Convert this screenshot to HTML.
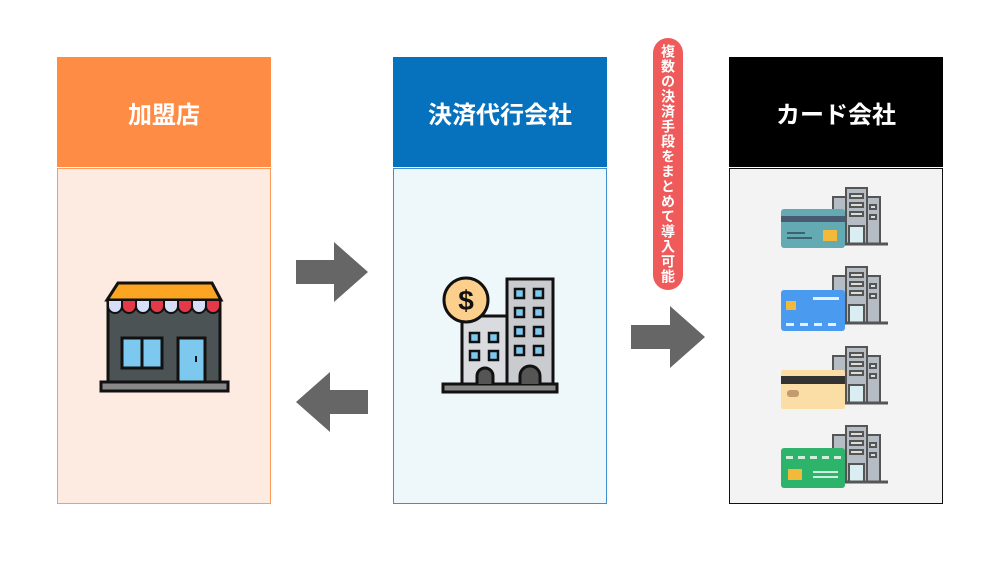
<!DOCTYPE html>
<html><head><meta charset="utf-8"><style>
body{margin:0;width:1000px;height:562px;background:#fff;position:relative;overflow:hidden;font-family:"Liberation Sans","Noto Sans CJK JP",sans-serif}
.h{position:absolute;height:110px;color:#fff;font-weight:bold;font-size:24px;display:flex;align-items:center;justify-content:center}
.b{position:absolute;box-sizing:border-box;height:336px;top:168px}
.pill{position:absolute;left:653px;top:38px;width:30px;height:252px;background:#ef5b5b;border-radius:15px;color:#fff;font-weight:bold;font-size:14px;line-height:16px;text-align:center;writing-mode:vertical-rl;display:flex;align-items:center;justify-content:center;letter-spacing:1px}
svg{position:absolute}
</style></head><body>
<div class="h" style="left:57px;top:57px;width:214px;background:#fe8c45">加盟店</div>
<div class="b" style="left:57px;width:214px;background:#fdebe1;border:1.5px solid #fe9a5a"></div>
<div class="h" style="left:393px;top:57px;width:214px;background:#0671bc">決済代行会社</div>
<div class="b" style="left:393px;width:214px;background:#eef8fb;border:1.5px solid #3d8fcf"></div>
<div class="h" style="left:729px;top:57px;width:214px;background:#000">カード会社</div>
<div class="b" style="left:729px;width:214px;background:#f3f3f3;border:1.5px solid #111"></div>
<div class="pill">複数の決済手段をまとめて導入可能</div>

<svg width="1000" height="562" style="left:0;top:0">
<g fill="#666">
<polygon points="296,260 334,260 334,242 368,272 334,302 334,284 296,284"/>
<polygon points="368,390 330,390 330,372 296,402 330,432 330,414 368,414"/>
<polygon points="631,325 670,325 670,306 705,337 670,368 670,349 631,349"/>
</g>
<!-- shop -->
<g stroke="#111" stroke-width="3">
<rect x="108" y="300" width="112" height="82" fill="#4b5355"/>
<polygon points="118,283 212,283 221,300 107,300" fill="#fca523"/>
<rect x="122" y="338" width="40" height="30" fill="#7cc8ee"/>
<line x1="142" y1="338" x2="142" y2="368"/>
<rect x="178" y="338" width="27" height="44" fill="#7cc8ee"/>
<rect x="101" y="382" width="127" height="9" fill="#888"/>
</g>
<g stroke="#111" stroke-width="2">
<path d="M108,300 h14 v6 a7,7 0 0 1 -14,0z" fill="#d7def8"/>
<path d="M122,300 h14 v6 a7,7 0 0 1 -14,0z" fill="#e5394a"/>
<path d="M136,300 h14 v6 a7,7 0 0 1 -14,0z" fill="#d7def8"/>
<path d="M150,300 h14 v6 a7,7 0 0 1 -14,0z" fill="#e5394a"/>
<path d="M164,300 h14 v6 a7,7 0 0 1 -14,0z" fill="#d7def8"/>
<path d="M178,300 h14 v6 a7,7 0 0 1 -14,0z" fill="#e5394a"/>
<path d="M192,300 h14 v6 a7,7 0 0 1 -14,0z" fill="#d7def8"/>
<path d="M206,300 h14 v6 a7,7 0 0 1 -14,0z" fill="#e5394a"/>
</g>
<line x1="196" y1="356" x2="196" y2="362" stroke="#111" stroke-width="2"/>
<!-- pay building -->
<g stroke="#111" stroke-width="3">
<rect x="462" y="316" width="46" height="68" fill="#d9dbde"/>
<rect x="507" y="279" width="46" height="105" fill="#c9cbcf"/>
<circle cx="466" cy="300" r="22" fill="#fcd08c"/>
<rect x="443" y="384" width="114" height="8" fill="#888"/>
<path d="M477,384 v-8 a8,8 0 0 1 16,0 v8" fill="#555"/>
<path d="M520,384 v-8 a10,10 0 0 1 20,0 v8" fill="#555"/>
</g>
<text x="466" y="310" font-size="28" font-weight="bold" text-anchor="middle" fill="#111" font-family="Liberation Sans">$</text>
<g fill="#7cc8ee" stroke="#111" stroke-width="2.5">
<rect x="470" y="333" width="9" height="9"/><rect x="489" y="333" width="9" height="9"/>
<rect x="470" y="351" width="9" height="9"/><rect x="489" y="351" width="9" height="9"/>
<rect x="515" y="289" width="9" height="9"/><rect x="534" y="289" width="9" height="9"/>
<rect x="515" y="308" width="9" height="9"/><rect x="534" y="308" width="9" height="9"/>
<rect x="515" y="327" width="9" height="9"/><rect x="534" y="327" width="9" height="9"/>
<rect x="515" y="346" width="9" height="9"/><rect x="534" y="346" width="9" height="9"/>
</g>
<!-- card companies -->
<defs>
<g id="bld" stroke="#555" stroke-width="2">
<rect x="833" y="17" width="14" height="47" fill="#b5bcc3"/>
<rect x="866" y="17" width="14" height="47" fill="#b5bcc3"/>
<rect x="846" y="8" width="21" height="56" fill="#b5bcc3"/>
<rect x="849" y="46" width="15" height="18" fill="#d8eef2"/>
<rect x="850" y="14" width="13" height="4" fill="#ddd"/><rect x="850" y="23" width="13" height="4" fill="#ddd"/><rect x="850" y="32" width="13" height="4" fill="#ddd"/>
<rect x="870" y="25" width="6" height="4" fill="#ddd"/><rect x="870" y="35" width="6" height="4" fill="#ddd"/>
<line x1="830" y1="64" x2="888" y2="64" stroke-width="3"/>
</g>
</defs>
<use href="#bld" y="180"/>
<rect x="781" y="209" width="64" height="39" rx="3" fill="#64aab3"/>
<rect x="781" y="216" width="64" height="6" fill="#4b5a73"/>
<rect x="823" y="230" width="14" height="11" fill="#f2b93b"/>
<line x1="787" y1="233" x2="805" y2="233" stroke="#2f4a5a" stroke-width="1.5"/>
<line x1="787" y1="238" x2="812" y2="238" stroke="#2f4a5a" stroke-width="1.5"/>
<use href="#bld" y="259"/>
<rect x="781" y="290" width="64" height="41" rx="3" fill="#4a9af0"/>
<rect x="786" y="301" width="10" height="9" fill="#f2b93b"/>
<g fill="#e6f0fb"><rect x="786" y="323" width="8" height="3"/><rect x="800" y="323" width="8" height="3"/><rect x="814" y="323" width="8" height="3"/><rect x="828" y="323" width="8" height="3"/><rect x="813" y="297" width="26" height="3"/></g>
<use href="#bld" y="339"/>
<rect x="781" y="370" width="64" height="39" rx="2" fill="#fbdda6"/>
<rect x="781" y="376" width="64" height="8" fill="#333"/>
<rect x="787" y="390" width="12" height="7" rx="3" fill="#c49a70"/>
<use href="#bld" y="418"/>
<rect x="781" y="448" width="64" height="40" rx="3" fill="#2db36a"/>
<g fill="#cfeedd"><rect x="786" y="456" width="7" height="3"/><rect x="798" y="456" width="7" height="3"/><rect x="810" y="456" width="7" height="3"/><rect x="822" y="456" width="7" height="3"/><rect x="834" y="456" width="7" height="3"/><rect x="813" y="471" width="25" height="2"/><rect x="813" y="476" width="25" height="2"/></g>
<rect x="788" y="469" width="14" height="11" fill="#f2b93b"/>
</svg>
</body></html>
